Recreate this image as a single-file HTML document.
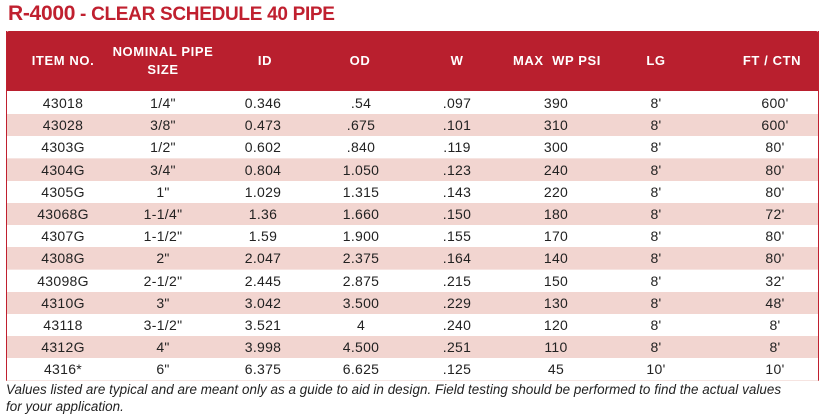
<!DOCTYPE html>
<html><head><style>
body{margin:0;width:826px;height:418px;background:#fff;font-family:"Liberation Sans",sans-serif;position:relative;overflow:hidden}
.t{position:absolute;left:8px;top:2px;font-size:21px;font-weight:bold;color:#c0202f;letter-spacing:-0.3px}
.tbl{position:absolute;left:6px;top:31px;width:813px;height:350px;border-left:1.5px solid #c0202f;border-right:1.5px solid #c0202f;border-bottom:1.5px solid #d8a0a0;box-sizing:border-box}
.hd{position:absolute;left:6px;top:31px;width:813px;height:60px;background:#b91f2e;border-radius:3px 3px 0 0}
.h{position:absolute;color:#fff;font-weight:bold;font-size:13px;letter-spacing:0.6px;text-align:center;transform:translateX(-50%);line-height:18px;white-space:nowrap}
.r{position:absolute;left:7px;width:811px;height:22.1px}
.c{position:absolute;font-size:14px;letter-spacing:0.3px;color:#222;transform:translateX(-50%);line-height:22px;white-space:nowrap}
.cap{position:absolute;left:6px;top:382px;font-size:13.4px;font-style:italic;color:#222;line-height:16.5px;width:826px;letter-spacing:0.05px}
</style></head><body>
<div class="t">R-4000<span style="font-size:19px"> - CLEAR SCHEDULE 40 PIPE</span></div>
<div class="hd"></div>
<div class="tbl"></div>
<div class="h" style="left:63px;top:52px">ITEM NO.</div>
<div class="h" style="left:163px;top:43px">NOMINAL PIPE<br>SIZE</div>
<div class="h" style="left:265px;top:52px">ID</div>
<div class="h" style="left:360px;top:52px">OD</div>
<div class="h" style="left:457px;top:52px">W</div>
<div class="h" style="left:557px;top:52px">MAX&nbsp; WP PSI</div>
<div class="h" style="left:656px;top:52px">LG</div>
<div class="h" style="left:772px;top:52px">FT / CTN</div>
<div id="rows"></div>
<div class="cap">Values listed are typical and are meant only as a guide to aid in design. Field testing should be performed to find the actual values<br>for your application.</div>
<script>
var d=[["43018","1/4\"","0.346",".54",".097","390","8'","600'"],["43028","3/8\"","0.473",".675",".101","310","8'","600'"],["4303G","1/2\"","0.602",".840",".119","300","8'","80'"],["4304G","3/4\"","0.804","1.050",".123","240","8'","80'"],["4305G","1\"","1.029","1.315",".143","220","8'","80'"],["43068G","1-1/4\"","1.36","1.660",".150","180","8'","72'"],["4307G","1-1/2\"","1.59","1.900",".155","170","8'","80'"],["4308G","2\"","2.047","2.375",".164","140","8'","80'"],["43098G","2-1/2\"","2.445","2.875",".215","150","8'","32'"],["4310G","3\"","3.042","3.500",".229","130","8'","48'"],["43118","3-1/2\"","3.521","4",".240","120","8'","8'"],["4312G","4\"","3.998","4.500",".251","110","8'","8'"],["4316*","6\"","6.375","6.625",".125","45","10'","10'"]];
var x=[63,163,263,361,457,556,656,775],h="";
for(var i=0;i<d.length;i++){var y=92+i*22.2;
h+='<div class="r" style="top:'+y+'px;background:'+(i%2?'#f2d5d0':'#fff')+';border-bottom:1px solid #f6e4e1"></div>';
for(var j=0;j<8;j++)h+='<div class="c" style="left:'+x[j]+'px;top:'+y+'px">'+d[i][j]+'</div>';}
document.getElementById('rows').innerHTML=h;
</script>
</body></html>
